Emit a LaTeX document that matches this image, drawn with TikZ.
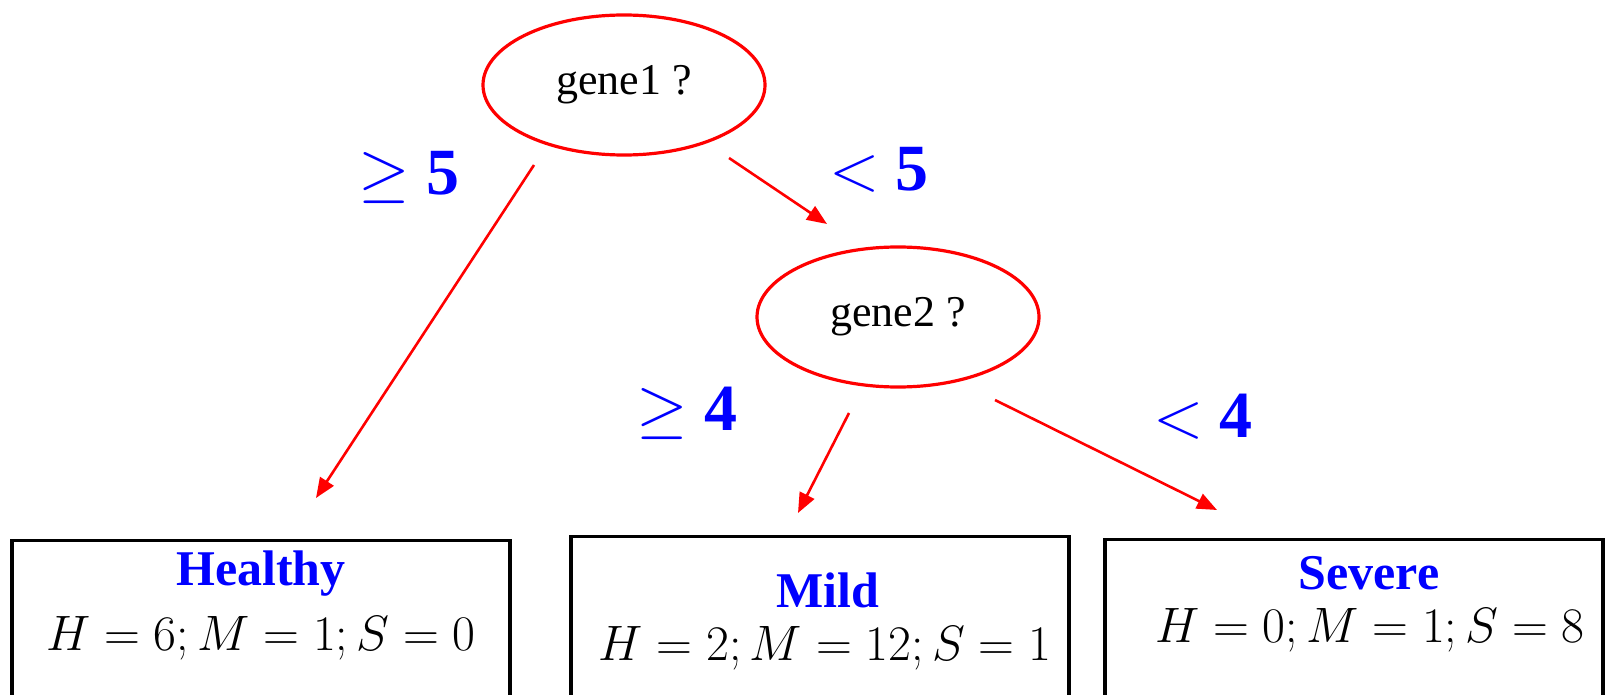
\documentclass[tikz,border=0pt]{standalone}
\usepackage{fontspec}
\setmainfont{Liberation Serif}
\usetikzlibrary{arrows.meta,positioning,calc,shapes.geometric}
\definecolor{Split}{HTML}{FF0000}
\definecolor{Label}{HTML}{0000FF}
\tikzset{
 test/.style={ellipse,draw=Split,line width=1.6pt,minimum width=141pt,minimum height=70pt,inner sep=0pt,font=\fontsize{22}{26}\selectfont},
 leaf/.style={draw=black,line width=1.6pt,minimum width=249pt,minimum height=90pt,inner sep=0pt},
 cls/.style={text=Label,font=\bfseries\fontsize{25}{30}\selectfont,inner sep=0pt},
 cnt/.style={font=\fontsize{24}{29}\selectfont,inner sep=0pt},
 cond/.style={text=Label,font=\fontsize{33}{40}\selectfont,inner sep=0pt},
 arr/.style={-{Triangle[length=10pt,width=8pt]},line width=1.3pt,draw=Split}
}
\newcommand{\relsym}[1]{\scalebox{1.33}{$#1$}}

\begin{document}
\begin{tikzpicture}[x=0.5pt,y=-0.5pt]
\clip (0,0) rectangle (1606,695);
\node[test] (g1) at (624,85) {gene1 ?};
\node[test] (g2) at (898,317) {gene2 ?};
\node[leaf,anchor=north] (h) at (261,539) {};
\node[leaf,anchor=north] (m) at (820,535) {};
\node[leaf,anchor=north] (s) at (1354,538) {};
\node[cls] (ht) at ($(h.north)+(0,35)$) {Healthy};
\node[cnt] (hv) at ($(h.north)+(0,99)$) {$H=6;M=1;S=0$};
\node[cls] (mt) at ($(m.north)+(8,55)$) {Mild};
\node[cnt] (mv) at ($(m.north)+(5,113)$) {$H=2;M=12;S=1$};
\node[cls] (st) at ($(s.north)+(15,35)$) {Severe};
\node[cnt] (sv) at ($(s.north)+(16,92)$) {$H=0;M=1;S=8$};
% branch conditions
\node[cond] (c1) at (409,177) {\relsym{\geq} \textbf{5}};
\node[cond] (c2) at (879,170) {\relsym{<} \textbf{5}};
\node[cond] (c3) at (687,413) {\relsym{\geq} \textbf{4}};
\node[cond] (c4) at (1203,417) {\relsym{<} \textbf{4}};
% arrow ends
\coordinate (g1-h) at (534,165);
\coordinate (to-h) at (316,498);
\coordinate (g1-g2) at (729,158);
\coordinate (to-g2) at (827,224);
\coordinate (g2-m) at (849,413);
\coordinate (to-m) at (798,513);
\coordinate (g2-s) at (995,400);
\coordinate (to-s) at (1217,510);
\foreach \x/\y in {g1-h/to-h,g1-g2/to-g2,g2-m/to-m,g2-s/to-s} \draw[arr] (\x)--(\y);
\end{tikzpicture}
\end{document}
